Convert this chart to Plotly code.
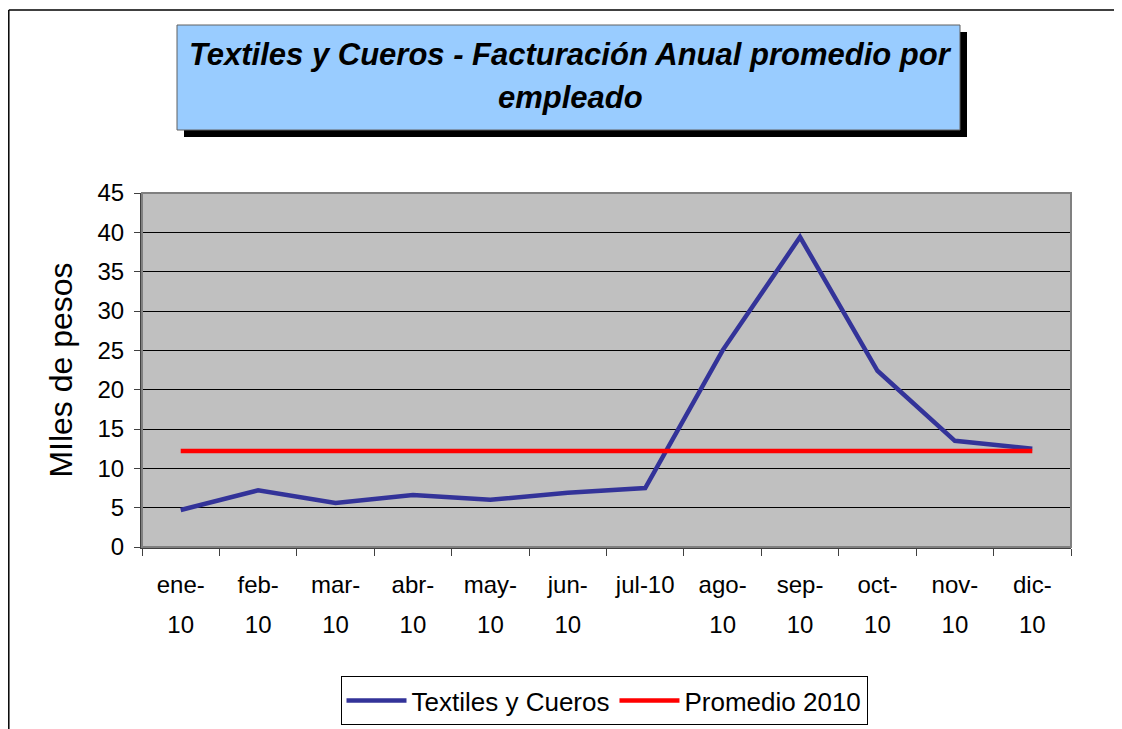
import plotly.graph_objects as go

categories = ["ene-10", "feb-10", "mar-10", "abr-10", "may-10", "jun-10",
              "jul-10", "ago-10", "sep-10", "oct-10", "nov-10", "dic-10"]
label_top = ["ene-", "feb-", "mar-", "abr-", "may-", "jun-",
             "jul-10", "ago-", "sep-", "oct-", "nov-", "dic-"]
label_bottom = ["10", "10", "10", "10", "10", "10",
                "", "10", "10", "10", "10", "10"]
textiles = [4.7, 7.2, 5.6, 6.6, 6.0, 6.9, 7.5, 25.0, 39.4, 22.4, 13.5, 12.5]
promedio = [12.2] * 12
y_ticks = [0, 5, 10, 15, 20, 25, 30, 35, 40, 45]

FONT = "Arial, Liberation Sans, sans-serif"

OFF = 8  # page body margin
# plot area in page pixels
L, R, T, B = 142, 1071, 193, 547
W, H = R - L, B - T


def px(x):
    return (x - L) / W


def py(y):
    return (B - y) / H


fig = go.Figure()
fig.add_trace(go.Scatter(x=categories, y=textiles, mode="lines",
                         name="Textiles y Cueros",
                         line=dict(color="#333399", width=4.5)))
fig.add_trace(go.Scatter(x=categories, y=promedio, mode="lines",
                         name="Promedio 2010",
                         line=dict(color="#FF0000", width=4.5)))

fig.update_layout(
    width=1122, height=729,
    margin=dict(l=L - OFF, r=1122 - R + OFF, t=T - OFF, b=729 - B + OFF),
    paper_bgcolor="white",
    plot_bgcolor="#C0C0C0",
    font=dict(family=FONT, color="black", size=24),
    showlegend=True,
    legend=dict(orientation="h", x=px(604), xanchor="center",
                y=py(676), yanchor="top",
                bordercolor="black", borderwidth=1,
                font=dict(size=26, family=FONT),
                itemwidth=60, tracegroupgap=0),
    xaxis=dict(type="category", range=[-0.5, 11.5],
               tickmode="array", tickvals=categories, ticktext=label_top,
               tickson="boundaries", ticks="outside", ticklen=7,
               tickcolor="#404040", showgrid=False,
               showline=True, linecolor="#404040", linewidth=2,
               tickfont=dict(size=24), ticklabelstandoff=15,
               zeroline=False),
    xaxis2=dict(type="category", range=[-0.5, 11.5], overlaying="x",
                anchor="y", side="bottom",
                tickmode="array", tickvals=categories, ticktext=label_bottom,
                ticks="", showgrid=False, showline=False,
                tickfont=dict(size=24), ticklabelstandoff=61,
                zeroline=False),
    yaxis=dict(range=[0, 45], tickmode="array", tickvals=y_ticks,
               ticks="outside", ticklen=6, tickcolor="#404040",
               showgrid=True, gridcolor="black", gridwidth=1,
               showline=True, linecolor="#404040", linewidth=2,
               tickfont=dict(size=24), zeroline=False,
               ticklabelstandoff=5,
               title=dict(text="MIles de pesos", font=dict(size=32),
                          standoff=15)),
)

# invisible helper so the second category axis is drawn
fig.add_trace(go.Scatter(x=categories, y=promedio, xaxis="x2", mode="lines",
                         line=dict(width=0), opacity=0, showlegend=False,
                         hoverinfo="skip"))

shapes = []
# plot area border
shapes.append(dict(type="rect", xref="paper", yref="paper", x0=0, x1=1,
                   y0=0, y1=1, line=dict(color="#808080", width=2),
                   layer="above"))
# outer chart border (left and top)
shapes.append(dict(type="line", xref="paper", yref="paper",
                   x0=px(8.8), x1=px(8.8), y0=py(10), y1=py(760),
                   line=dict(color="black", width=1.5)))
shapes.append(dict(type="line", xref="paper", yref="paper",
                   x0=px(8.8), x1=px(1140), y0=py(10), y1=py(10),
                   line=dict(color="black", width=1.5)))
# title box shadow and box
shapes.append(dict(type="rect", xref="paper", yref="paper",
                   x0=px(184), x1=px(967), y0=py(137), y1=py(32),
                   fillcolor="black", line=dict(width=0)))
shapes.append(dict(type="rect", xref="paper", yref="paper",
                   x0=px(177), x1=px(960), y0=py(130), y1=py(25),
                   fillcolor="#99CCFF", line=dict(color="#606060", width=1)))
fig.update_layout(shapes=shapes)

fig.add_annotation(xref="paper", yref="paper", x=px(570), y=py(55),
                   text="<b><i>Textiles y Cueros - Facturación Anual promedio por</i></b>",
                   showarrow=False, xanchor="center", yanchor="middle",
                   font=dict(size=31, family=FONT, color="black"))
fig.add_annotation(xref="paper", yref="paper", x=px(570), y=py(97),
                   text="<b><i>empleado</i></b>",
                   showarrow=False, xanchor="center", yanchor="middle",
                   font=dict(size=31, family=FONT, color="black"))

fig.write_html("out.html", config={"displayModeBar": False})
